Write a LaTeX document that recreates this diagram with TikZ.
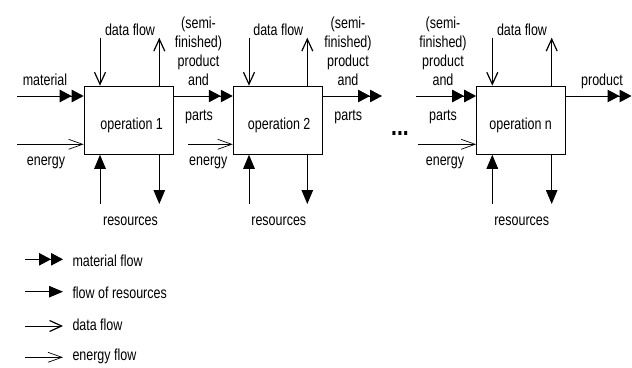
\documentclass[tikz,border=0pt]{standalone}
\usepackage{fontspec}
\setmainfont{Liberation Sans}[FakeStretch=0.78]
\usetikzlibrary{arrows.meta}
\newcommand{\stk}[1]{\begin{tabular}[b]{@{}c@{}}#1\end{tabular}}
\begin{document}
\begin{tikzpicture}[x=1pt,y=-1pt,
  font=\fontsize{16}{18.9}\selectfont,
  line width=1pt,
  box/.style={draw, line width=1.1pt, minimum width=89pt, minimum height=68pt, inner sep=0pt},
  lbl/.style={inner sep=0pt, anchor=base},
  leg/.style={inner sep=0pt, anchor=base west},
  matflow/.style={-{Triangle[length=12pt,width=12.5pt]Triangle[length=12pt,width=12.5pt]}},
  resflow/.style={-{Triangle[length=14pt,width=11.5pt]}},
  datflow/.style={-{Straight Barb[length=12pt,width=11pt,line width=1.2pt]}},
  enflow/.style={-{Straight Barb[length=14pt,width=10pt,line width=0.7pt]}},
]
\useasboundingbox (0,0) rectangle (632,367);

% boxes
\node[box] (b1) at (128.7,120.2) {};
\node[box] (b2) at (277.8,120.2) {};
\node[box] (bn) at (521.2,120.2) {};
\node[lbl] (t1) at (131.7,129) {operation 1};
\node[lbl] (t2) at (279.2,129) {operation 2};
\node[lbl] (tn) at (520.7,129) {operation n};

% coordinates of free ends
\coordinate (m0) at (17,96);
\coordinate (e0) at (17,144.3);
\coordinate (d1) at (100,37.7);
\coordinate (u1) at (159.3,37.7);
\coordinate (r1) at (100,204);
\coordinate (o1) at (159.3,204);
\coordinate (e1) at (188,144.3);
\coordinate (d2) at (249,37.7);
\coordinate (u2) at (307.3,37.7);
\coordinate (r2) at (249,204);
\coordinate (o2) at (307.3,204);
\coordinate (p2) at (382,96);
\coordinate (mn) at (416,96);
\coordinate (en) at (418,144.3);
\coordinate (dn) at (492.3,37.7);
\coordinate (un) at (551.7,37.7);
\coordinate (rn) at (492.3,204);
\coordinate (on) at (551.7,204);
\coordinate (pn) at (631.5,96);

% box 1
\draw[matflow] (m0) -- (m0 -| b1.west);
\draw[enflow] (e0) -- (e0 -| b1.west);
\draw[datflow] (d1) -- (d1 |- b1.north);
\draw[datflow] (u1 |- b1.north) -- (u1);
\draw[resflow] (r1) -- (r1 |- b1.south);
\draw[resflow] (o1 |- b1.south) -- (o1);
% box 1 -> box 2
\draw[matflow] (b1.east |- m0) -- (b2.west |- m0);
\draw[enflow] (e1) -- (e1 -| b2.west);
% box 2
\draw[datflow] (d2) -- (d2 |- b2.north);
\draw[datflow] (u2 |- b2.north) -- (u2);
\draw[resflow] (r2) -- (r2 |- b2.south);
\draw[resflow] (o2 |- b2.south) -- (o2);
\draw[matflow] (b2.east |- p2) -- (p2);
% box n
\draw[matflow] (mn) -- (mn -| bn.west);
\draw[enflow] (en) -- (en -| bn.west);
\draw[datflow] (dn) -- (dn |- bn.north);
\draw[datflow] (un |- bn.north) -- (un);
\draw[resflow] (rn) -- (rn |- bn.south);
\draw[resflow] (on |- bn.south) -- (on);
\draw[matflow] (bn.east |- pn) -- (pn);

% labels
\node[lbl] (lmat) at (45,85) {material};
\node[lbl] (len0) at (46,165) {energy};
\node[lbl] (ld1) at (130,35) {data flow};
\node[lbl] (lr1) at (130.5,225) {resources};
\node[lbl] (ls1) at (198.5,85) {\stk{(semi-\\finished)\\product\\and}};
\node[lbl] (lp1) at (199,120) {parts};
\node[lbl] (len1) at (208.3,165) {energy};
\node[lbl] (ld2) at (278.3,35) {data flow};
\node[lbl] (lr2) at (278.8,225) {resources};
\node[lbl] (ls2) at (348,85) {\stk{(semi-\\finished)\\product\\and}};
\node[lbl] (lp2) at (348.3,120) {parts};
\node[lbl, font=\fontsize{27}{27}\selectfont\bfseries] (dots) at (400,135) {...};
\node[lbl] (lsn) at (443,85) {\stk{(semi-\\finished)\\product\\and}};
\node[lbl] (lpn) at (443,120) {parts};
\node[lbl] (lenn) at (445,165) {energy};
\node[lbl] (ldn) at (522,35) {data flow};
\node[lbl] (lrn) at (521.7,225) {resources};
\node[lbl] (lprod) at (602,85) {product};

% legend
\coordinate (g1a) at (25,259.3); \coordinate (g1b) at (63,259.3);
\coordinate (g2a) at (25,291.7); \coordinate (g2b) at (63,291.7);
\coordinate (g3a) at (25,326);   \coordinate (g3b) at (63,326);
\coordinate (g4a) at (25,357.3); \coordinate (g4b) at (63,357.3);
\draw[matflow] (g1a) -- (g1b);
\draw[resflow] (g2a) -- (g2b);
\draw[datflow] (g3a) -- (g3b);
\draw[enflow] (g4a) -- (g4b);
\node[leg] (k1) at (72,266) {material flow};
\node[leg] (k2) at (72,298) {flow of resources};
\node[leg] (k3) at (72,330) {data flow};
\node[leg] (k4) at (72,360) {energy flow};
\end{tikzpicture}
\end{document}
